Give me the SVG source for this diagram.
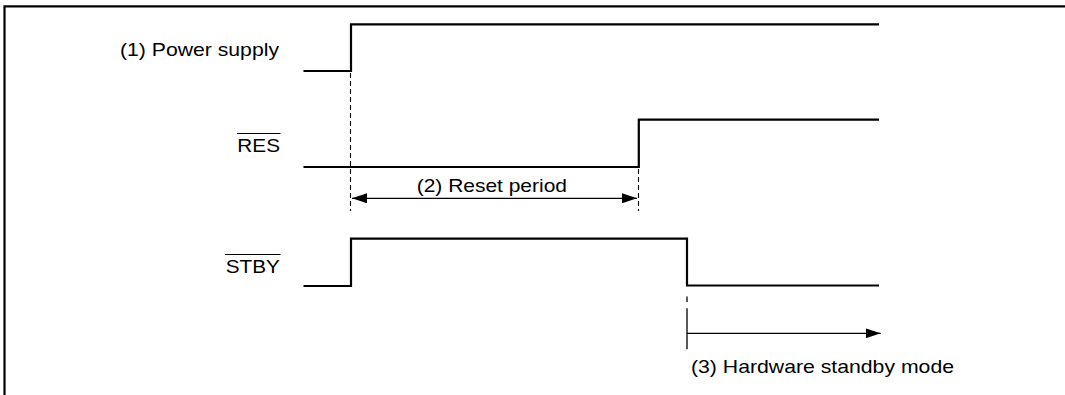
<svg xmlns="http://www.w3.org/2000/svg" width="1065" height="395" viewBox="0 0 1065 395">
<style>
.lbl{font-family:"Liberation Sans",Arial,sans-serif;font-size:18.6px;fill:#000}
.sig{fill:none;stroke:#000;stroke-width:2.2}
.dash{fill:none;stroke:#000;stroke-width:1.1;stroke-dasharray:5,3}
.thin{fill:none;stroke:#000;stroke-width:1.3}
.ov{stroke:#000;stroke-width:1}
</style>
<defs>
<marker id="ah" markerWidth="15" markerHeight="10" refX="15" refY="5" orient="auto" markerUnits="userSpaceOnUse">
<path d="M0,0 L15,5 L0,10 Z" fill="#000"/>
</marker>
<marker id="ahs" markerWidth="15" markerHeight="10" refX="15" refY="5" orient="auto-start-reverse" markerUnits="userSpaceOnUse">
<path d="M0,0 L15,5 L0,10 Z" fill="#000"/>
</marker>
</defs>
<rect width="1065" height="395" fill="#fff"/>
<g id="frame">
<path d="M4.5,395 V6.3 H1065" fill="none" stroke="#000" stroke-width="2.2"/>
</g>
<g id="power">
<text class="lbl" x="279" y="56" text-anchor="end" textLength="159" lengthAdjust="spacingAndGlyphs">(1) Power supply</text>
<path class="sig" d="M303.5,71 H351 V24.3 H879"/>
</g>
<g id="res">
<text class="lbl" x="237.3" y="152" textLength="42.7" lengthAdjust="spacingAndGlyphs">RES</text>
<line class="ov" x1="237" y1="133.5" x2="280.5" y2="133.5"/>
<path class="sig" d="M303.5,167 H638.8 V119.7 H879"/>
</g>
<g id="stby">
<text class="lbl" x="225.7" y="272.7" textLength="54.3" lengthAdjust="spacingAndGlyphs">STBY</text>
<line class="ov" x1="225" y1="254.5" x2="280.5" y2="254.5"/>
<path class="sig" d="M303.5,286 H351 V238.7 H687 V285.5 H879"/>
</g>
<g id="connectors">
<line class="dash" x1="350.5" y1="73" x2="350.5" y2="211"/>
<line class="dash" x1="638.5" y1="169" x2="638.5" y2="211"/>
<line class="thin" x1="352" y1="198.3" x2="637" y2="198.3" marker-start="url(#ahs)" marker-end="url(#ah)"/>
<line class="thin" x1="687" y1="296.5" x2="687" y2="302"/>
<line class="thin" x1="687" y1="308.3" x2="687" y2="349.3"/>
<line class="thin" x1="687" y1="333.3" x2="880.7" y2="333.3" marker-end="url(#ah)"/>
</g>
<g id="labels">
<text class="lbl" x="416.7" y="192.3" textLength="150.3" lengthAdjust="spacingAndGlyphs">(2) Reset period</text>
<text class="lbl" x="691" y="373.3" textLength="263" lengthAdjust="spacingAndGlyphs">(3) Hardware standby mode</text>
</g>
</svg>
